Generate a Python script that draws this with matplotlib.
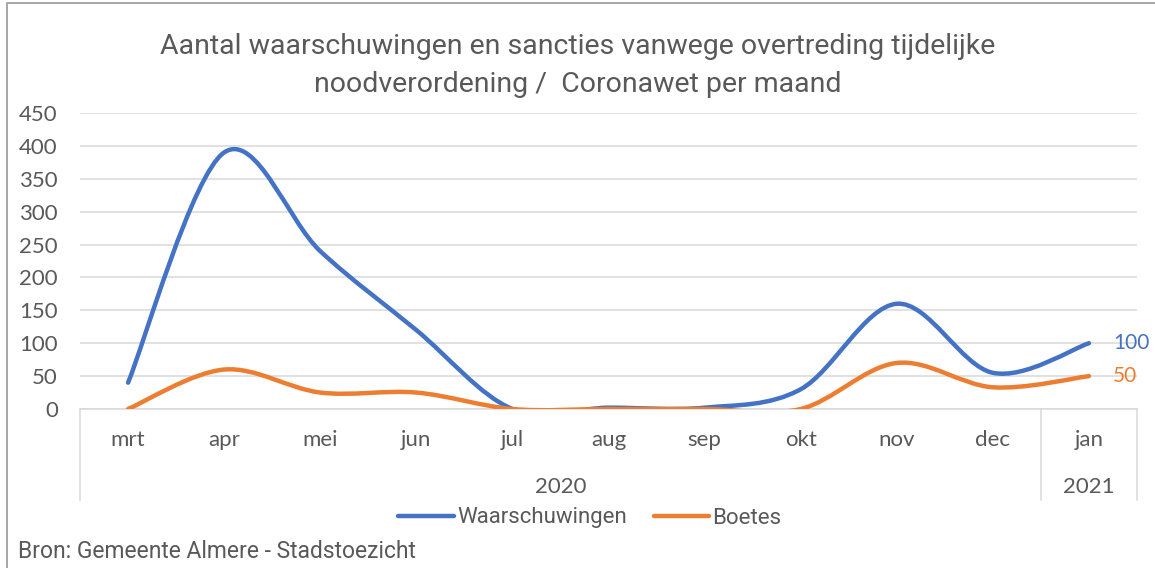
import matplotlib
matplotlib.use('Agg')
import matplotlib.pyplot as plt
import matplotlib.patches as patches
from matplotlib.path import Path
from matplotlib.lines import Line2D

# Data
months = ['mrt', 'apr', 'mei', 'jun', 'jul', 'aug', 'sep', 'okt', 'nov', 'dec', 'jan']
years = ['2020', '2021']
year_spans = [(0, 9), (10, 10)]
waarschuwingen = [40, 390, 240, 120, 0, 2, 2, 30, 160, 55, 100]
boetes = [0, 60, 25, 25, 0, 0, 0, 0, 70, 33, 50]

BLUE = '#4472C4'
ORANGE = '#ED7D31'
GRID = '#d9d9d9'
TXT = '#595959'
NARROW = ['Roboto', 'DejaVu Sans']
REG = ['Lato', 'DejaVu Sans']

fig = plt.figure(figsize=(11.55, 5.68), dpi=100)
ax = fig.add_axes([80 / 1155, 1 - 409 / 568, 1057 / 1155, 296 / 568])

# outer frame (only left and top edges are visible in the crop)
fx, fy = 7 / 1155, 1 - 3 / 568
fig.lines.append(Line2D([fx, fx, 1.0], [0.0, fy, fy], transform=fig.transFigure,
                        color='#a6a6a6', linewidth=1.4))


def smooth_path(xs, ys):
    # Excel-style smoothed line: cubic Bezier segments through every point
    pts = list(zip(xs, ys))
    verts = [pts[0]]
    codes = [Path.MOVETO]
    n = len(pts)
    for i in range(n - 1):
        p0 = pts[i - 1] if i > 0 else pts[i]
        p1 = pts[i]
        p2 = pts[i + 1]
        p3 = pts[i + 2] if i + 2 < n else pts[i + 1]
        c1 = (p1[0] + (p2[0] - p0[0]) / 6, p1[1] + (p2[1] - p0[1]) / 6)
        c2 = (p2[0] - (p3[0] - p1[0]) / 6, p2[1] - (p3[1] - p1[1]) / 6)
        verts += [c1, c2, p2]
        codes += [Path.CURVE4] * 3
    return Path(verts, codes)


x = list(range(len(months)))
for vals, col in [(waarschuwingen, BLUE), (boetes, ORANGE)]:
    ax.add_patch(patches.PathPatch(smooth_path(x, vals), facecolor='none', edgecolor=col,
                                   linewidth=3.2, capstyle='round', joinstyle='round',
                                   zorder=3, clip_on=True))
    ax.text(x[-1] + 0.25, vals[-1], str(vals[-1]), color=col, fontsize=15,
            family=REG, va='center', ha='left')

ax.set_xlim(-0.5, len(months) - 0.5)
ax.set_ylim(0, 450)
ax.set_yticks(range(0, 451, 50))
ax.grid(axis='y', color=GRID, linewidth=1.1)
ax.set_axisbelow(True)
for s in ['top', 'right', 'left']:
    ax.spines[s].set_visible(False)
ax.spines['bottom'].set_color(GRID)
ax.spines['bottom'].set_linewidth(1.1)

ax.set_xticks(x)
ax.set_xticklabels(months)
ax.tick_params(axis='x', length=0, pad=15, labelsize=16, labelcolor=TXT)
ax.tick_params(axis='y', length=0, pad=16, labelsize=16, labelcolor=TXT)
for lab in ax.get_xticklabels() + ax.get_yticklabels():
    lab.set_family(REG)

# multi-level category axis: separators and year labels
trans = ax.get_xaxis_transform()
for bx in [-0.5, 9.5, 10.5]:
    ax.add_line(Line2D([bx, bx], [0, -0.307], transform=trans, color=GRID,
                       linewidth=1.1, clip_on=False))
for yr, (a, b) in zip(years, year_spans):
    ax.text((a + b) / 2, -0.265, yr, transform=trans, ha='center', va='center',
            fontsize=16, color=TXT, family=REG)

fig.text(0.5, 1 - 47 / 568, 'Aantal waarschuwingen en sancties vanwege overtreding tijdelijke',
         ha='center', va='center', fontsize=20.5, color=TXT, family=NARROW)
fig.text(0.5, 1 - 84 / 568, 'noodverordening /  Coronawet per maand',
         ha='center', va='center', fontsize=20.5, color=TXT, family=NARROW)

handles = [Line2D([], [], color=BLUE, linewidth=3.2, solid_capstyle='round'),
           Line2D([], [], color=ORANGE, linewidth=3.2, solid_capstyle='round')]
fig.legend(handles, ['Waarschuwingen', 'Boetes'], loc='center', ncol=2,
           bbox_to_anchor=(590 / 1155, 1 - 518 / 568), frameon=False,
           handlelength=2.5, handletextpad=0.15, columnspacing=1.2,
           prop={'family': NARROW, 'size': 16}, labelcolor=TXT)

fig.text(18 / 1155, 1 - 551 / 568, 'Bron: Gemeente Almere - Stadstoezicht', ha='left',
         va='center', fontsize=16.5, color=TXT, family=NARROW)

fig.savefig('out.png', dpi=100)
